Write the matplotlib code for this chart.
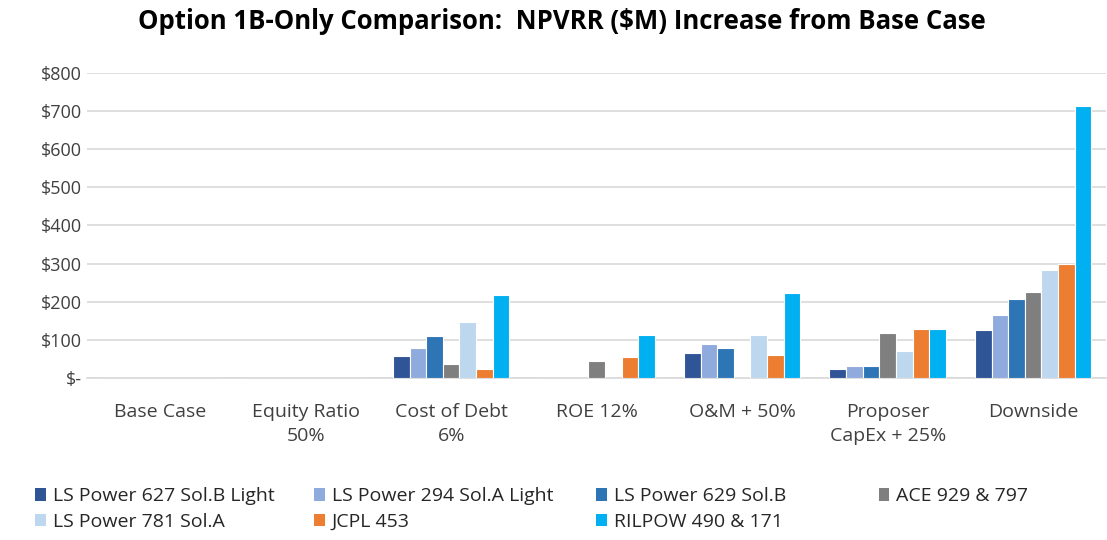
import numpy as np
import matplotlib
matplotlib.use('Agg')
import matplotlib.pyplot as plt
from matplotlib.patches import Patch

plt.rcParams['font.family'] = ['Open Sans', 'DejaVu Sans']

categories = ['Base Case', 'Equity Ratio\n50%', 'Cost of Debt\n6%', 'ROE 12%',
              'O&M + 50%', 'Proposer\nCapEx + 25%', 'Downside']
series_names = ['LS Power 627 Sol.B Light', 'LS Power 294 Sol.A Light', 'LS Power 629 Sol.B',
                'ACE 929 & 797', 'LS Power 781 Sol.A', 'JCPL 453', 'RILPOW 490 & 171']
ls627 = [0, 0, 58, 0, 65, 24, 125]
ls294 = [0, 0, 78, 0, 89, 31, 166]
ls629 = [0, 0, 109, 0, 79, 31, 207]
ace = [0, 0, 38, 45, 0, 118, 226]
ls781 = [0, 0, 146, 0, 112, 71, 284]
jcpl = [0, 0, 24, 55, 61, 129, 300]
rilpow = [0, 0, 217, 112, 224, 129, 712]
series = [ls627, ls294, ls629, ace, ls781, jcpl, rilpow]
colors = ['#2F5597', '#8FAADC', '#2E75B6', '#7F7F7F', '#BDD7EE', '#ED7D31', '#00B0F0']

fig = plt.figure(figsize=(11.07, 5.40), dpi=100)
ax = fig.add_axes([0.079, 0.30, 0.920, 0.565])

x = np.arange(len(categories))
n = len(series)
w = 0.8 / n
for i, (vals, c) in enumerate(zip(series, colors)):
    ax.bar(x - 0.4 + w * (i + 0.5), vals, width=w, color=c, edgecolor='white',
           linewidth=0.8, zorder=3, label=series_names[i])

ax.set_xlim(-0.5, len(categories) - 0.5)
ax.set_ylim(0, 800)
ax.set_yticks(np.arange(0, 801, 100))
ax.set_yticklabels(['$-' if v == 0 else f'${v}' for v in range(0, 801, 100)],
                   fontsize=13, color='#404040')
ax.set_xticks(x)
ax.set_xticklabels(categories, fontsize=14, color='#404040', linespacing=1.4)
ax.tick_params(axis='both', length=0)
ax.tick_params(axis='x', pad=18)
ax.tick_params(axis='y', pad=4)
ax.grid(axis='y', color='#D9D9D9', linewidth=1.2, zorder=0)
for s in ['top', 'right', 'left']:
    ax.spines[s].set_visible(False)
ax.spines['bottom'].set_color('#D9D9D9')
ax.spines['bottom'].set_linewidth(1.2)

fig.text(0.508, 0.96, 'Option 1B-Only Comparison:  NPVRR ($M) Increase from Base Case',
         ha='center', va='center', fontsize=18.5, fontweight='bold', color='black')

# legend laid out in 4 columns, row-major like the original
col_x = [0.016, 0.268, 0.523, 0.778]
for col in range(4):
    idx = [k for k in (col, col + 4) if k < n]
    handles = [Patch(facecolor=colors[k], edgecolor='none') for k in idx]
    fig.legend(handles, [series_names[k] for k in idx], loc='upper left',
               bbox_to_anchor=(col_x[col], 0.13), frameon=False,
               fontsize=14, handlelength=0.55, handleheight=0.6, handletextpad=0.35,
               labelspacing=0.4, labelcolor='#262626')

fig.savefig('out.png', dpi=100)
